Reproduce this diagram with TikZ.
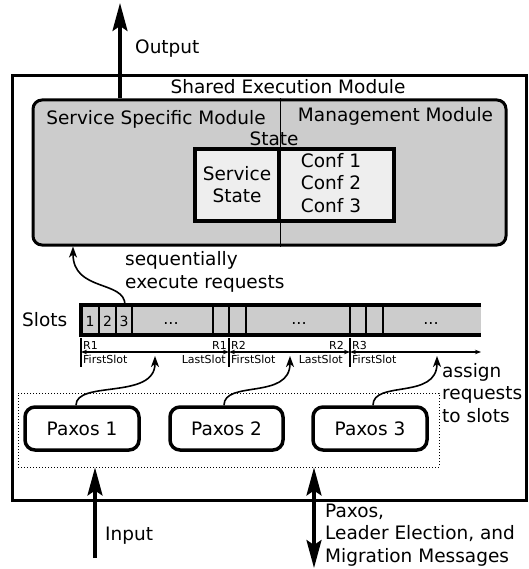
\documentclass[tikz,border=0pt]{standalone}
\usepackage{fontspec}
\setmainfont{DejaVu Sans}
\usetikzlibrary{arrows.meta}
\definecolor{boxgray}{HTML}{CCCCCC}
\definecolor{stategray}{HTML}{EEEEEE}
\newcommand\mainsz{\fontsize{18.5}{22.5}\selectfont}
\newcommand\slotsz{\fontsize{14}{16}\selectfont}
\newcommand\dotsz{\fontsize{16}{18}\selectfont}
\newcommand\tinysz{\fontsize{11}{12}\selectfont}
\tikzset{
  lbl/.style={font=\mainsz, inner sep=0pt},
  slotlbl/.style={font=\slotsz, inner sep=0pt, anchor=base},
  dotlbl/.style={font=\dotsz, inner sep=0pt, anchor=base},
  tinylbl/.style={font=\tinysz, inner sep=0pt},
  outerbox/.style={draw, line width=3pt, inner sep=0pt},
  modbox/.style={draw, line width=3pt, fill=boxgray, rounded corners=9pt, minimum width=473pt, minimum height=145pt, inner sep=0pt},
  statebox/.style={draw, line width=3.5pt, fill=stategray, minimum height=72pt, inner sep=0pt},
  paxbox/.style={draw, line width=3.5pt, rounded corners=10pt, minimum height=43pt, font=\mainsz, inner sep=0pt},
  grpbox/.style={draw, dotted, line width=1pt, minimum width=421pt, minimum height=74pt, inner sep=0pt},
  bigarrow/.style={line width=3.2pt, -{Stealth[length=28pt,width=15pt,inset=5pt]}},
  bigdouble/.style={line width=3.2pt, {Stealth[length=28pt,width=15pt,inset=5pt]}-{Stealth[length=28pt,width=15pt,inset=5pt]}},
  curvearrow/.style={line width=1.6pt, -{Stealth[length=11pt,width=8pt,inset=3pt]}},
  rangearrow/.style={line width=1.1pt, {Stealth[length=6pt,width=4.5pt]}-{Stealth[length=6pt,width=4.5pt]}},
  marker/.style={line width=1.3pt},
  barline/.style={line width=3.5pt},
  cellline/.style={line width=2.2pt},
}
\begin{document}
\begin{tikzpicture}[x=1pt,y=-1pt]
\useasboundingbox (0,0) rectangle (528,569);

% outer module
\node[outerbox, minimum width=514pt, minimum height=424pt] (outer) at (269,288) {};
\node[lbl, anchor=base] (semlbl) at (288,94) {Shared Execution Module};

% gray module box
\node[modbox] (sem) at (269.5,172.5) {};
\coordinate (divx) at (280,0);
\draw[line width=1pt] (sem.north -| divx) -- (sem.south -| divx);
\node[lbl, anchor=base] (ssm) at (156,124.5) {Service Specific Module};
\node[lbl, anchor=base] (mm) at (395.5,121.5) {Management Module};
\node[lbl, anchor=base] (statelbl) at (274,146) {State};

% state boxes
\node[statebox, minimum width=84pt] (ss) at (237,185) {};
\node[statebox, minimum width=115pt] (conf) at (336.5,185) {};
\node[lbl, align=center] (sstext) at (237,184.5) {Service\\State};
\node[lbl, align=center] (conftext) at (331,183) {Conf 1\\Conf 2\\Conf 3};

% output arrow
\coordinate (outx) at (120,0);
\coordinate (outtop) at (120,3);
\draw[bigarrow] (sem.north -| outx) -- (outtop);
\node[lbl, anchor=base west] (outlbl) at (135,54) {Output};

% slots bar
\node[fill=boxgray, minimum width=400pt, minimum height=30pt, inner sep=0pt] (slots) at (281,320) {};
\draw[barline] (slots.north east) -- (slots.north west) -- (slots.south west) -- (slots.south east);
\foreach \x in {99,116,132,213,229,246,350,366,383}
  \draw[cellline] (\x,305) -- (\x,335);
\node[lbl, anchor=base west] (slotslbl) at (22,326) {Slots};
\node[slotlbl] (s1) at (90,326.5) {1};
\node[slotlbl] (s2) at (107.5,326.5) {2};
\node[slotlbl] (s3) at (124,326.5) {3};
\node[dotlbl] (d1) at (171,324) {...};
\node[dotlbl] (d2) at (299,324) {...};
\node[dotlbl] (d3) at (431,324) {...};

% range markers
\coordinate (m1) at (81,352);
\coordinate (m2) at (229,352);
\coordinate (m3) at (350,352);
\coordinate (m4) at (481,352);
\foreach \m in {m1,m2,m3}
  \draw[marker] (\m) ++(0,-14) -- ++(0,29);
\draw[rangearrow] (m1) -- (m2);
\draw[rangearrow] (m2) -- (m3);
\draw[rangearrow] (m3) -- (m4);
\node[tinylbl, anchor=base west] at (83,349) {R1};
\node[tinylbl, anchor=base west] at (83,363) {FirstSlot};
\node[tinylbl, anchor=base east] at (227,349) {R1};
\node[tinylbl, anchor=base east] at (226,363) {LastSlot};
\node[tinylbl, anchor=base west] at (231,349) {R2};
\node[tinylbl, anchor=base west] at (231,363) {FirstSlot};
\node[tinylbl, anchor=base east] at (344,349) {R2};
\node[tinylbl, anchor=base east] at (343,363) {LastSlot};
\node[tinylbl, anchor=base west] at (352,349) {R3};
\node[tinylbl, anchor=base west] at (352,363) {FirstSlot};

% sequential execution arrow
\coordinate (seqx) at (73,0);
\coordinate (seqstart) at (125,305);
\draw[curvearrow] (seqstart) .. controls (125,280) and (73,292) .. (sem.south -| seqx);
\node[lbl, align=left, anchor=base west] (seqlbl) at (125,288) {sequentially\\execute requests};

% paxos group
\node[grpbox] (grp) at (228.5,430) {};
\node[paxbox, minimum width=114pt] (p1) at (82,428.5) {Paxos 1};
\node[paxbox, minimum width=113pt] (p2) at (226.5,428.5) {Paxos 2};
\node[paxbox, minimum width=114pt] (p3) at (370,428.5) {Paxos 3};

\coordinate (a1) at (155,356);
\coordinate (a2) at (290,356);
\coordinate (a3) at (437,356);
\draw[curvearrow] ([xshift=-6pt]p1.north) .. controls (76,380) and (155,400) .. (a1);
\draw[curvearrow] ([xshift=-2.5pt]p2.north) .. controls (224,380) and (290,400) .. (a2);
\draw[curvearrow] ([xshift=3pt]p3.north) .. controls (373,380) and (437,400) .. (a3);
\node[lbl, align=left, anchor=base west] (asslbl) at (442,422) {assign\\requests\\to slots};

% input arrows
\coordinate (inx) at (95,0);
\coordinate (inbot) at (95,558);
\draw[bigarrow] (inbot) -- (grp.south -| inx);
\node[lbl, anchor=base west] (inlbl) at (105,540) {Input};

\coordinate (msgx) at (314,0);
\coordinate (msgbot) at (314,568);
\draw[bigdouble] (grp.south -| msgx) -- (msgbot);
\node[lbl, align=left, anchor=base west] (msglbl) at (325,562) {Paxos,\\Leader Election, and\\Migration Messages};
\end{tikzpicture}
\end{document}
